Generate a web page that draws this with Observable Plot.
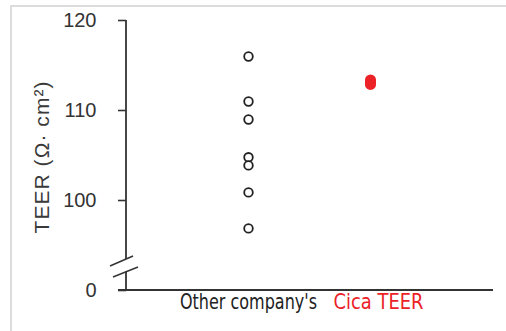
<!DOCTYPE html>
<html>
<head>
<meta charset="utf-8">
<script src="https://cdn.jsdelivr.net/npm/d3@7"></script>
<script src="https://cdn.jsdelivr.net/npm/@observablehq/plot@0.6"></script>
<style>
  html, body { margin: 0; padding: 0; background: #fff; }
  #wrap { position: relative; width: 506px; height: 331px; overflow: hidden; }
  #frame { position: absolute; left: 10px; top: 5px; width: 520px; height: 340px;
           border-left: 2px solid #dcdcdc; border-top: 2px solid #dcdcdc; pointer-events: none; }
  #chart { position: absolute; left: 0; top: 0; }
</style>
</head>
<body>
<div id="wrap"><div id="chart"></div><div id="frame"></div></div>
<script>
const groups = ["Other company's", "Cica TEER"];
const otherTEER = [116, 111, 109, 104.8, 103.9, 100.9, 96.9];
const cicaTEER = [113.4, 113.2, 113.05, 112.9];
const yTickLabels = ["0", "100", "110", "120"];
const yTitle = "TEER (Ω· cm²)";
// broken axis: the "0" tick and anything below the break sit on the baseline (90)
const breakBase = 90;
const yTickValues = [breakBase, 100, 110, 120];

const otherData = otherTEER.map(v => ({group: groups[0], value: v}));
const cicaData = cicaTEER.map(v => ({group: groups[1], value: v}));

const axisColor = "#333";
const red = "#ec2227";

function axesDecor(index, scales, values, dimensions) {
  const g = d3.create("svg:g");
  const x0 = dimensions.marginLeft;
  const yTop = dimensions.marginTop;
  const yBot = dimensions.height - dimensions.marginBottom;
  const yb = yBot - 27;
  g.append("line").attr("x1", x0).attr("x2", x0).attr("y1", yTop).attr("y2", yb - 4)
    .attr("stroke", axisColor).attr("stroke-width", 1.8);
  g.append("line").attr("x1", x0).attr("x2", x0).attr("y1", yb + 8).attr("y2", yBot)
    .attr("stroke", axisColor).attr("stroke-width", 1.8);
  g.append("line").attr("x1", x0 - 16).attr("y1", yb + 3).attr("x2", x0 + 7).attr("y2", yb - 7)
    .attr("stroke", axisColor).attr("stroke-width", 1.5);
  g.append("line").attr("x1", x0 - 13).attr("y1", yb + 14).attr("x2", x0 + 12).attr("y2", yb + 4)
    .attr("stroke", axisColor).attr("stroke-width", 1.5);
  g.append("line").attr("x1", x0 - 8).attr("x2", dimensions.width - 13).attr("y1", yBot).attr("y2", yBot)
    .attr("stroke", axisColor).attr("stroke-width", 2);
  return g.node();
}

const narrow = "'Liberation Sans Narrow', 'DejaVu Sans Condensed', sans-serif";

const chart = Plot.plot({
  width: 506,
  height: 331,
  marginLeft: 126,
  marginTop: 20,
  marginBottom: 41,
  marginRight: 13,
  style: { fontFamily: "'Liberation Sans', Arial, sans-serif", fontSize: "20px", color: axisColor, background: "transparent" },
  x: { type: "point", domain: groups, range: [248, 370], padding: 0, axis: null },
  y: { domain: [breakBase, 120], transform: v => Math.max(v, breakBase), axis: null },
  marks: [
    Plot.axisY({ ticks: yTickValues, tickFormat: (d, i) => yTickLabels[yTickValues.indexOf(d)],
      anchor: "left", tickSize: 8, tickPadding: 22, fontSize: 20,
      stroke: axisColor, strokeWidth: 1.6, fill: axisColor, label: null }),
    axesDecor,
    Plot.text([yTitle], { frameAnchor: "left", textAnchor: "middle", rotate: -90, dx: -84, dy: 2, fontSize: 21, fill: "#3a3a3a" }),
    Plot.dot(otherData, { x: "group", y: "value", r: 4.3, stroke: "#222", strokeWidth: 1.8, fill: "white" }),
    Plot.dot(cicaData, { x: "group", y: "value", r: 5.5, fill: red, stroke: "none" }),
    Plot.text([groups[0]], { x: d => d, frameAnchor: "bottom", dy: 18, fill: "#222", fontSize: 20.5, fontFamily: narrow }),
    Plot.text([groups[1]], { x: d => d, frameAnchor: "bottom", dy: 18, dx: 8, fill: red, fontSize: 20.5, fontFamily: narrow })
  ]
});
// fit the condensed category labels to the reference widths
const labelWidths = { [groups[0]]: 137, [groups[1]]: 90 };
chart.querySelectorAll("text").forEach(t => {
  const w = labelWidths[t.textContent];
  if (w) { t.setAttribute("textLength", w); t.setAttribute("lengthAdjust", "spacingAndGlyphs"); }
});
const titleText = Array.from(chart.querySelectorAll("text")).find(t => t.textContent === yTitle);
if (titleText) { titleText.setAttribute("textLength", 152); titleText.setAttribute("lengthAdjust", "spacing"); }
document.getElementById("chart").appendChild(chart);
</script>
</body>
</html>
